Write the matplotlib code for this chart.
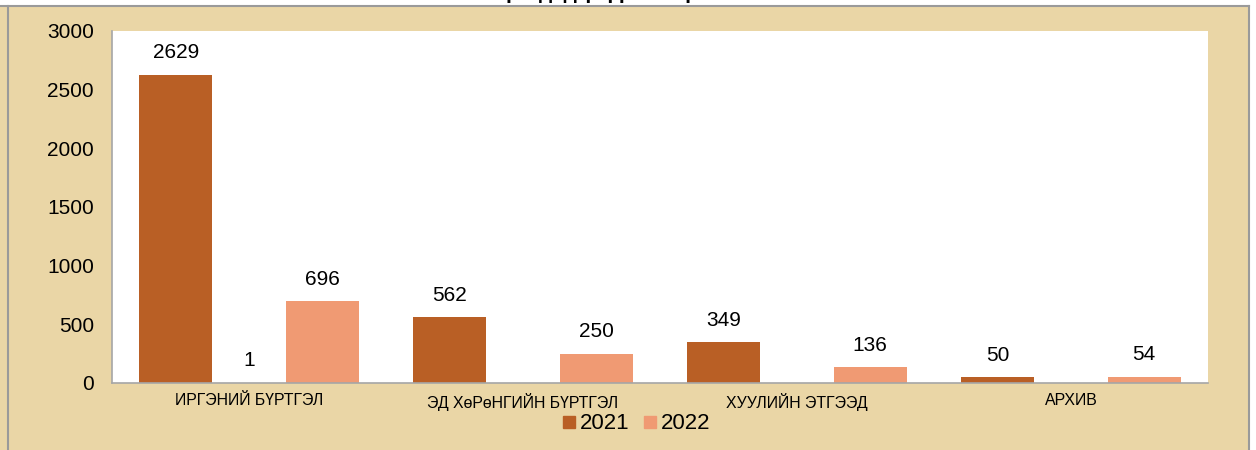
import matplotlib.pyplot as plt
from matplotlib.patches import Rectangle
from matplotlib.lines import Line2D
import numpy as np

plt.rcParams["font.family"] = ["Liberation Sans", "DejaVu Sans"]

categories = ["ИРГЭНИЙ БҮРТГЭЛ", "ЭД ХөРөНГИЙН БҮРТГЭЛ", "ХУУЛИЙН ЭТГЭЭД", "АРХИВ"]
values_2021 = [2629, 562, 349, 50]
values_mid = [1, None, None, None]
values_2022 = [696, 250, 136, 54]
yticks = [0, 500, 1000, 1500, 2000, 2500, 3000]

c2021 = "#B95F25"
c2022 = "#F09A73"
paper = "#EAD6A6"

fig = plt.figure(figsize=(12.56, 4.50), dpi=100, facecolor="white")

# papyrus-like background panel with thin grey frame
fig.patches.append(Rectangle((0, 0), 1249 / 1256, 444 / 450, transform=fig.transFigure,
                             facecolor=paper, edgecolor="none", zorder=-10))
fig.lines.append(Line2D([0, 1249 / 1256], [444 / 450, 444 / 450], transform=fig.transFigure,
                        color="#9A9A9A", lw=1.5, zorder=-5))
fig.lines.append(Line2D([1249 / 1256, 1249 / 1256], [0, 444 / 450], transform=fig.transFigure,
                        color="#9A9A9A", lw=1.5, zorder=-5))
fig.lines.append(Line2D([8 / 1256, 8 / 1256], [0, 444 / 450], transform=fig.transFigure,
                        color="#9A9A9A", lw=1.5, zorder=-5))

# title, only its lowest strokes show at the top edge
fig.text(0.51, 1.003, "Иргэдэд үзүүлсэн үйлчилгээ", ha="center", va="baseline",
         fontsize=15, fontweight="bold")

ax = fig.add_axes([112 / 1256, 67 / 450, 1096 / 1256, 352 / 450])
ax.set_facecolor("white")

x = np.arange(len(categories))
w = 0.267

ax.bar(x - w, values_2021, w, color=c2021, label="2021")
mid = [v if v is not None else 0 for v in values_mid]
ax.bar(x, mid, w, color=c2021)
ax.bar(x + w, values_2022, w, color=c2022, label="2022")

for xs, vals in [(x - w, values_2021), (x, values_mid), (x + w, values_2022)]:
    for xi, v in zip(xs, vals):
        if v is None:
            continue
        ax.annotate(str(v), (xi, v), xytext=(0, 9), textcoords="offset points",
                    ha="center", va="bottom", fontsize=15)

ax.set_xlim(-0.5, len(categories) - 0.5)
ax.set_ylim(0, 3000)
ax.set_yticks(yticks)
ax.set_yticklabels([str(t) for t in yticks], fontsize=15)
ax.set_xticks(x)
ax.set_xticklabels(categories, fontsize=11.4)
ax.tick_params(axis="y", length=0, pad=13)
ax.tick_params(axis="x", length=0, pad=7)

for s in ["top", "right"]:
    ax.spines[s].set_visible(False)
for s in ["left", "bottom"]:
    ax.spines[s].set_color("#A6A6A6")
    ax.spines[s].set_linewidth(1.2)

handles = [Line2D([], [], marker="s", ls="none", color=c2021, markersize=9),
           Line2D([], [], marker="s", ls="none", color=c2022, markersize=9)]
fig.legend(handles, ["2021", "2022"], loc="center", bbox_to_anchor=(0.505, 0.058),
           ncol=2, frameon=False, fontsize=16, handletextpad=0.0, columnspacing=0.4,
           handlelength=1.0, borderpad=0.0)

fig.savefig("out.png", dpi=100, facecolor=fig.get_facecolor())
